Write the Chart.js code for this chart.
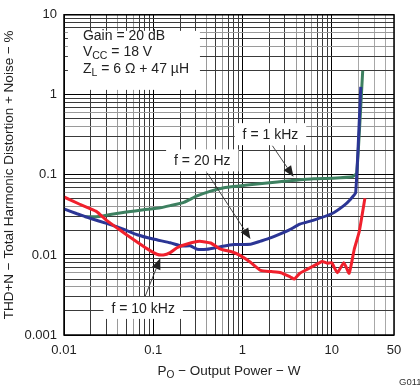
<!DOCTYPE html>
<html lang="en">
<head>
<meta charset="UTF-8">
<title>THD+N vs Output Power</title>
<script src="https://cdn.jsdelivr.net/npm/chart.js"></script>
<style>
  html, body { margin: 0; padding: 0; background: #fff; }
</style>
</head>
<body>
<canvas id="grafico" width="420" height="385"></canvas>
<script>
// f = 10 kHz (red)
const rojoP = [0.01, 0.015, 0.023, 0.03, 0.042, 0.06, 0.085, 0.11, 0.13, 0.155, 0.185, 0.24, 0.33, 0.44,
  0.57, 0.77, 0.95, 1.23, 1.6, 2.1, 2.7, 3.45, 3.8, 4.4, 5.3, 6.6, 7.8, 8.9, 10, 11.6, 13.7, 15.7, 17.9, 20.4, 23.6];
const rojoV = [0.053, 0.043, 0.035, 0.027, 0.0206, 0.0156, 0.012, 0.0102, 0.0100, 0.0107, 0.0123, 0.0137, 0.0148, 0.0141,
  0.0118, 0.0109, 0.0098, 0.0081, 0.0064, 0.0062, 0.006, 0.0053, 0.005, 0.0059, 0.0066, 0.0075, 0.0083, 0.0079, 0.008, 0.006, 0.008, 0.0059, 0.0117, 0.0196, 0.051];

// f = 20 Hz (blue)
const azulP = [0.01, 0.014, 0.02, 0.03, 0.047, 0.066, 0.1, 0.155, 0.21, 0.26, 0.31, 0.4, 0.57, 0.8, 1.23, 1.6, 2.06, 2.66,
  3.45, 4.4, 6.3, 10, 13.7, 16.3, 18.6, 21.2];
const azulV = [0.0377, 0.0327, 0.0285, 0.0248, 0.0209, 0.0179, 0.0158, 0.0142, 0.0129, 0.013, 0.0118, 0.0118, 0.0127, 0.0135, 0.0136, 0.0149, 0.0163, 0.0183,
  0.0209, 0.0243, 0.0272, 0.0327, 0.0413, 0.0498, 0.06, 1.26];

// f = 1 kHz (green)
const verdeP = [0.017, 0.025, 0.033, 0.05, 0.078, 0.12, 0.155, 0.22, 0.31, 0.44, 0.62, 0.87, 1.46, 2.46, 3.45, 6.3, 10, 17.1, 19.1, 22.3];
const verdeV = [0.030, 0.0303, 0.0321, 0.0343, 0.0366, 0.0388, 0.0413, 0.0454, 0.0546, 0.0628, 0.069, 0.0723, 0.0771, 0.0817, 0.0846, 0.0895, 0.091, 0.095, 0.105, 2.0];

const etiquetasX = [0.01, 0.1, 1, 10, 50];
const etiquetasY = [0.001, 0.01, 0.1, 1, 10];

function puntos(px, vs) {
    return px.map((p, i) => ({ x: p, y: vs[i] }));
}

function rejilla(min, max) {
    const vals = [];
    for (let e = -3; e <= 1; e++) {
        for (let m = 1; m <= 9; m++) {
            const v = parseFloat((m * Math.pow(10, e)).toPrecision(3));
            if (v >= min * 0.999 && v <= max * 1.001) vals.push(v);
        }
    }
    if (!vals.includes(max)) vals.push(max);
    return vals;
}

function esEtiqueta(lista, v) {
    return lista.some(l => Math.abs(l - v) / l < 1e-6);
}

function colorRejilla(v) {
    const m = Math.round(v / Math.pow(10, Math.floor(Math.log10(v) + 1e-9)));
    if (v > 10.5) return '#a8a8a8';
    if (m === 1) return '#000';
    if (m === 4 || m === 6) return '#9a9a9a';
    return '#3a3a3a';
}

const fuente = '"Liberation Sans", Arial, sans-serif';

// dibuja texto con subindices: partes = [[texto, esSub], ...]
function textoRico(ctx, partes, x, y, size, align) {
    let ancho = 0;
    partes.forEach(([t, sub]) => {
        ctx.font = (sub ? size * 0.75 : size) + 'px ' + fuente;
        ancho += ctx.measureText(t).width;
    });
    let cx = align === 'center' ? x - ancho / 2 : x;
    ctx.textAlign = 'left';
    ctx.textBaseline = 'alphabetic';
    partes.forEach(([t, sub]) => {
        ctx.font = (sub ? size * 0.75 : size) + 'px ' + fuente;
        ctx.fillText(t, cx, sub ? y + 3 : y);
        cx += ctx.measureText(t).width;
    });
    return ancho;
}

// etiquetas con caja blanca (posicion en valores de datos)
const cajas = [
    { texto: 'f = 1 kHz', x: 2.06, y: 0.323 },
    { texto: 'f = 20 Hz', x: 0.355, y: 0.152 },
    { texto: 'f = 10 kHz', x: 0.0772, y: 0.00218 }
];

// flechas: desde (x0,y0) hasta la punta (x1,y1)
const flechas = [
    { x0: 2.17, y0: 0.231, x1: 3.74, y1: 0.0946 },
    { x0: 0.404, y0: 0.1057, x1: 1.23, y1: 0.0158 },
    { x0: 0.0813, y0: 0.00305, x1: 0.12, y1: 0.00908 }
];

const anotaciones = {
    id: 'anotaciones',
    beforeDatasetsDraw(chart) {
        const { ctx, scales: { x, y } } = chart;
        ctx.save();
        // caja de condiciones
        const bx = x.getPixelForValue(0.0163);
        ctx.fillStyle = '#fff';
        ctx.fillRect(bx - 15, y.getPixelForValue(6.3), 132, 59);
        ctx.fillStyle = '#222';
        textoRico(ctx, [['Gain = 20 dB', false]], bx, y.getPixelForValue(4.84), 14, 'left');
        textoRico(ctx, [['V', false], ['CC', true], [' = 18 V', false]], bx, y.getPixelForValue(3.1), 14, 'left');
        textoRico(ctx, [['Z', false], ['L', true], [' = 6 \u03A9 + 47 \u00B5H', false]], bx, y.getPixelForValue(1.87), 14, 'left');

        cajas.forEach(c => {
            const px = x.getPixelForValue(c.x);
            const py = y.getPixelForValue(c.y);
            ctx.font = '14px ' + fuente;
            const w = ctx.measureText(c.texto).width;
            ctx.fillStyle = '#fff';
            ctx.fillRect(px - w / 2 - 8, py - 11, w + 16, 22);
            ctx.fillStyle = '#222';
            ctx.textAlign = 'center';
            ctx.textBaseline = 'middle';
            ctx.fillText(c.texto, px, py + 1);
        });
        ctx.restore();
    },
    afterDatasetsDraw(chart) {
        const { ctx, chartArea: a, scales: { x, y } } = chart;
        ctx.save();
        flechas.forEach(f => {
            const x0 = x.getPixelForValue(f.x0), y0 = y.getPixelForValue(f.y0);
            const x1 = x.getPixelForValue(f.x1), y1 = y.getPixelForValue(f.y1);
            const ang = Math.atan2(y1 - y0, x1 - x0);
            const largo = 11, medio = 4.5;
            const bxp = x1 - largo * Math.cos(ang), byp = y1 - largo * Math.sin(ang);
            ctx.strokeStyle = '#333';
            ctx.lineWidth = 0.9;
            ctx.beginPath();
            ctx.moveTo(x0, y0);
            ctx.lineTo(bxp, byp);
            ctx.stroke();
            ctx.fillStyle = '#222';
            ctx.beginPath();
            ctx.moveTo(x1, y1);
            ctx.lineTo(bxp + medio * Math.sin(ang), byp - medio * Math.cos(ang));
            ctx.lineTo(bxp - medio * Math.sin(ang), byp + medio * Math.cos(ang));
            ctx.closePath();
            ctx.fill();
        });
        // marco del area
        ctx.strokeStyle = '#000';
        ctx.lineWidth = 1.5;
        ctx.strokeRect(a.left, a.top, a.right - a.left, a.bottom - a.top);
        ctx.restore();
    },
    afterDraw(chart) {
        const { ctx, chartArea: a } = chart;
        ctx.save();
        ctx.fillStyle = '#222';
        textoRico(ctx, [['P', false], ['O', true], [' \u2212 Output Power \u2212 W', false]], (a.left + a.right) / 2, 375, 13.5, 'center');

        ctx.translate(9, (a.top + a.bottom) / 2);
        ctx.rotate(-Math.PI / 2);
        ctx.font = '13.5px ' + fuente;
        ctx.textAlign = 'center';
        ctx.textBaseline = 'middle';
        ctx.fillText('THD+N \u2212 Total Harmonic Distortion + Noise \u2212 %', 0, 0);
        ctx.restore();

        ctx.save();
        ctx.font = '9.5px ' + fuente;
        ctx.fillStyle = '#333';
        ctx.textAlign = 'left';
        ctx.textBaseline = 'alphabetic';
        ctx.fillText('G011', 399, 385);
        ctx.restore();
    }
};

const comunes = {
    fill: false,
    borderWidth: 3,
    pointRadius: 0,
    tension: 0.15
};

new Chart(document.getElementById('grafico'), {
    type: 'line',
    data: {
        datasets: [
            Object.assign({ label: 'f = 10 kHz', data: puntos(rojoP, rojoV), borderColor: '#f0202c', order: 0 }, comunes),
            Object.assign({ label: 'f = 20 Hz', data: puntos(azulP, azulV), borderColor: '#2b3595', order: 1 }, comunes),
            Object.assign({ label: 'f = 1 kHz', data: puntos(verdeP, verdeV), borderColor: '#3d8060', order: 2 }, comunes)
        ]
    },
    options: {
        responsive: false,
        animation: false,
        layout: { padding: { left: 0, right: 26, top: 5, bottom: 0 } },
        plugins: {
            legend: { display: false },
            tooltip: { enabled: false }
        },
        scales: {
            x: {
                type: 'logarithmic',
                min: 0.01,
                max: 50,
                afterBuildTicks: s => { s.ticks = rejilla(0.01, 50).map(v => ({ value: v })); },
                afterFit: s => { s.height = 50; },
                grid: {
                    color: c => colorRejilla(c.tick.value),
                    lineWidth: 1,
                    drawTicks: false
                },
                border: { display: false },
                ticks: {
                    autoSkip: false,
                    maxRotation: 0,
                    padding: 8,
                    color: '#222',
                    font: { size: 13, family: fuente },
                    callback: v => esEtiqueta(etiquetasX, v) ? String(v) : ''
                }
            },
            y: {
                type: 'logarithmic',
                min: 0.001,
                max: 10,
                afterBuildTicks: s => { s.ticks = rejilla(0.001, 10).map(v => ({ value: v })); },
                afterFit: s => { s.width = 64; },
                grid: {
                    color: c => colorRejilla(c.tick.value),
                    lineWidth: 1,
                    drawTicks: false
                },
                border: { display: false },
                ticks: {
                    autoSkip: false,
                    padding: 7,
                    color: '#222',
                    font: { size: 13, family: fuente },
                    callback: v => esEtiqueta(etiquetasY, v) ? String(v) : ''
                }
            }
        }
    },
    plugins: [anotaciones]
});
</script>
</body>
</html>
